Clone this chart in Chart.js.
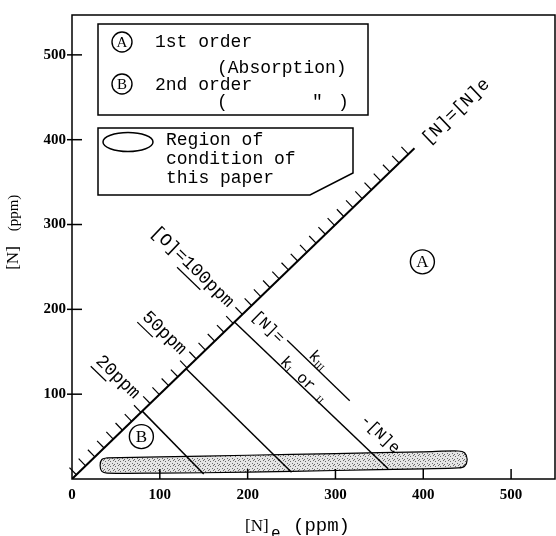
<!DOCTYPE html>
<html lang="en">
<head>
<meta charset="UTF-8">
<title>[N] vs [N]e</title>
<script src="https://cdn.jsdelivr.net/npm/chart.js"></script>
<style>body{margin:0;background:#fff}</style>
</head>
<body>
<canvas id="chart" width="556" height="536"></canvas>
<script>
// tick values on the two axes
const xTickValues = [0, 100, 200, 300, 400, 500];
const yTickValues = [100, 200, 300, 400, 500];

// [N] = [N]e line
const eqLineX = [0, 390];
const eqLineY = [0, 390];

// [O] = const lines, from the equilibrium line down to the axis
const oxygenLabels = ['20ppm', '50ppm', '[O]=100ppm'];
const oxygenNumbers = ['20', '50', '100'];
const oxygenStartX = [80, 130, 185];
const oxygenStartY = [80, 130, 185];
const oxygenEndX = [150, 250, 360];
const oxygenEndY = [6, 8, 12];
// where the labels sit (data units)
const oxygenLabelX = [52, 105, 137];
const oxygenLabelY = [120, 172, 250];

// outline of the "region of condition of this paper"
const regionX = [40, 100, 200, 300, 400, 440, 447, 450, 447, 440, 400, 300, 200, 100, 40, 34, 32, 34, 40];
const regionY = [25, 26, 28, 30, 32, 33, 31, 23, 15, 13, 12, 10, 8, 7, 7, 9, 16, 23, 25];

// stipple pattern for the region
const pc = document.createElement('canvas');
pc.width = 5; pc.height = 5;
const pctx = pc.getContext('2d');
pctx.fillStyle = '#e4e4e4';
pctx.fillRect(0, 0, 5, 5);
pctx.fillStyle = '#6a6a6a';
[[0, 1], [3, 0], [2, 3], [4, 4]].forEach(p => pctx.fillRect(p[0], p[1], 1, 1));
const stipple = pctx.createPattern(pc, 'repeat');

const pts = (xs, ys) => xs.map((v, i) => ({x: v, y: ys[i]}));

const datasets = [{
    data: pts(eqLineX, eqLineY),
    showLine: true, borderColor: '#000', borderWidth: 2, pointRadius: 0, order: 1
}];
oxygenLabels.forEach((lab, i) => {
    datasets.push({
        label: lab,
        data: pts([oxygenStartX[i], oxygenEndX[i]], [oxygenStartY[i], oxygenEndY[i]]),
        showLine: true, borderColor: '#000', borderWidth: 1.5, pointRadius: 0, order: 1
    });
});
datasets.push({
    data: pts(regionX, regionY),
    showLine: true, borderColor: '#000', borderWidth: 1.2, pointRadius: 0,
    backgroundColor: stipple, fill: 'shape', tension: 0.35, order: 5
});

const MONO = '"Liberation Mono", monospace';
const SERIF = '"Liberation Serif", serif';

const decor = {
    id: 'decor',
    afterDatasetsDraw(chart) {
        const {ctx, chartArea: ca, scales: {x, y}} = chart;
        const px = v => x.getPixelForValue(v), py = v => y.getPixelForValue(v);
        const seg = (x1, y1, x2, y2, w) => {
            ctx.lineWidth = w || 1.5;
            ctx.beginPath(); ctx.moveTo(x1, y1); ctx.lineTo(x2, y2); ctx.stroke();
        };
        const circ = (cx, cy, r, letter, size) => {
            ctx.lineWidth = 1.4;
            ctx.beginPath(); ctx.arc(cx, cy, r, 0, Math.PI * 2); ctx.stroke();
            ctx.font = size + 'px ' + SERIF;
            ctx.textAlign = 'center'; ctx.textBaseline = 'middle';
            ctx.fillText(letter, cx, cy + 1);
        };
        // draws pieces [text, font, dy] centred at cx,cy
        const seq = (pieces, cx, cy) => {
            let w = 0;
            pieces.forEach(p => { ctx.font = p[1]; w += ctx.measureText(p[0]).width; });
            let cur = cx - w / 2;
            ctx.textAlign = 'left'; ctx.textBaseline = 'middle';
            pieces.forEach(p => {
                ctx.font = p[1];
                ctx.fillText(p[0], cur, cy + (p[2] || 0));
                cur += ctx.measureText(p[0]).width;
            });
        };

        ctx.save();
        ctx.strokeStyle = '#000';
        ctx.fillStyle = '#000';

        // frame and inside ticks
        ctx.lineWidth = 1.5;
        ctx.strokeRect(ca.left, ca.top, ca.right - ca.left, ca.bottom - ca.top);
        xTickValues.forEach(v => { if (v > 0) seg(px(v), ca.bottom, px(v), ca.bottom - 10); });
        yTickValues.forEach(v => seg(ca.left - 5, py(v), ca.left + 10, py(v)));

        // hatching on the upper side of [N]=[N]e
        const ang = Math.atan2(py(0) - py(100), px(100) - px(0));
        const nx = -Math.sin(ang), ny = -Math.cos(ang);
        for (let t = 5; t <= eqLineX[1] - 3; t += 10.5) {
            const hx = px(t), hy = py(t);
            seg(hx, hy, hx + nx * 10, hy + ny * 10, 1.2);
        }

        // rotated labels
        const rotLabel = (text, dx, dy, a, size, under) => {
            ctx.save();
            ctx.translate(px(dx), py(dy));
            ctx.rotate(a);
            ctx.font = size + 'px ' + MONO;
            ctx.textAlign = 'center'; ctx.textBaseline = 'middle';
            ctx.fillText(text, 0, 0);
            if (under) {
                const W = ctx.measureText(text).width;
                const i = text.indexOf(under);
                const s = -W / 2 + ctx.measureText(text.slice(0, i)).width;
                const e = s + ctx.measureText(under).width;
                seg(s, size * 0.6, e, size * 0.6, 1.2);
            }
            ctx.restore();
        };
        rotLabel('[N]=[N]e', 437, 433, -ang, 18);
        oxygenLabels.forEach((lab, i) => rotLabel(lab, oxygenLabelX[i], oxygenLabelY[i], ang, 18, oxygenNumbers[i]));

        // formula along the 100ppm line
        ctx.save();
        ctx.translate(px(223), py(179));
        ctx.rotate(ang);
        const f16 = '16px ' + MONO, fs = '10px ' + SERIF;
        seq([['[N]=', f16]], 0, 0);
        seq([['k', f16], ['III', fs, 4]], 59, -11);
        seg(23, -4, 110, -4, 1.3);
        seq([['k', f16], ['I', fs, 4], [' or ', f16], ['II', fs, 4]], 62, 13);
        seq([['-[N]e', f16]], 155, -1);
        ctx.restore();

        // circled region markers
        circ(px(399), py(256), 12, 'A', 17);
        circ(px(79), py(50), 12, 'B', 17);

        // axis titles
        ctx.textBaseline = 'alphabetic'; ctx.textAlign = 'left';
        ctx.font = '17px ' + SERIF; ctx.fillText('[N]', 245, 531);
        ctx.font = '16px ' + MONO; ctx.fillText('e', 271, 538);
        ctx.font = '19px ' + MONO; ctx.fillText('(ppm)', 293, 531);
        ctx.save();
        ctx.translate(18, 0); ctx.rotate(-Math.PI / 2);
        ctx.textAlign = 'center';
        ctx.font = '17px ' + SERIF; ctx.fillText('[N]', -258, 0);
        ctx.font = '15px ' + SERIF; ctx.fillText('(ppm)', -213, 0);
        ctx.restore();

        // legend box 1
        ctx.lineWidth = 1.5;
        ctx.strokeRect(98, 24, 270, 91);
        circ(122, 42, 10, 'A', 15);
        circ(122, 84, 10, 'B', 15);
        ctx.font = '18px ' + MONO; ctx.textAlign = 'left'; ctx.textBaseline = 'alphabetic';
        ctx.fillText('1st order', 155, 47);
        ctx.fillText('(Absorption)', 217, 73);
        ctx.fillText('2nd order', 155, 90);
        ctx.fillText('(', 217, 107);
        ctx.fillText('"', 312, 107);
        ctx.fillText(')', 338, 107);

        // legend box 2
        ctx.lineWidth = 1.5;
        ctx.beginPath();
        ctx.moveTo(98, 128); ctx.lineTo(353, 128); ctx.lineTo(353, 173);
        ctx.lineTo(310, 195); ctx.lineTo(98, 195); ctx.closePath(); ctx.stroke();
        ctx.beginPath(); ctx.ellipse(128, 142, 25, 9.5, 0, 0, Math.PI * 2); ctx.stroke();
        ctx.font = '18px ' + MONO; ctx.textAlign = 'left'; ctx.textBaseline = 'alphabetic';
        ctx.fillText('Region of', 166, 145);
        ctx.fillText('condition of', 166, 164);
        ctx.fillText('this paper', 166, 183);

        ctx.restore();
    }
};

const tickFont = {family: 'Liberation Serif', size: 15, weight: 'bold'};
new Chart(document.getElementById('chart').getContext('2d'), {
    type: 'scatter',
    data: {datasets: datasets},
    options: {
        responsive: false,
        animation: false,
        layout: {padding: {top: 11, right: 1, left: 0, bottom: 0}},
        plugins: {legend: {display: false}, tooltip: {enabled: false}},
        scales: {
            x: {
                type: 'linear', min: 0, max: 550,
                grid: {display: false, drawTicks: false},
                border: {display: false},
                ticks: {color: '#000', font: tickFont, padding: 7, maxRotation: 0},
                afterBuildTicks: s => { s.ticks = xTickValues.map(v => ({value: v})); },
                afterFit: s => { s.height = 57; }
            },
            y: {
                type: 'linear', min: 0, max: 547,
                grid: {display: false, drawTicks: false},
                border: {display: false},
                ticks: {color: '#000', font: tickFont, padding: 6},
                afterBuildTicks: s => { s.ticks = yTickValues.map(v => ({value: v})); },
                afterFit: s => { s.width = 72; }
            }
        }
    },
    plugins: [decor]
});
</script>
</body>
</html>
